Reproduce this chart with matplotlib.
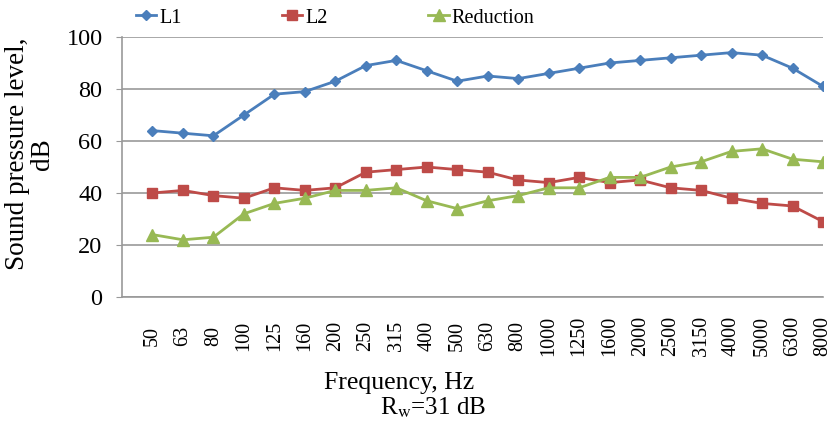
import matplotlib

matplotlib.use("Agg")
import matplotlib.pyplot as plt

FREQS = ["50", "63", "80", "100", "125", "160", "200", "250", "315", "400", "500",
         "630", "800", "1000", "1250", "1600", "2000", "2500", "3150", "4000",
         "5000", "6300", "8000"]
L1 = [64, 63, 62, 70, 78, 79, 83, 89, 91, 87, 83, 85, 84, 86, 88, 90, 91, 92, 93, 94, 93, 88, 81]
L2 = [40, 41, 39, 38, 42, 41, 42, 48, 49, 50, 49, 48, 45, 44, 46, 44, 45, 42, 41, 38, 36, 35, 29]
REDUCTION = [24, 22, 23, 32, 36, 38, 41, 41, 42, 37, 34, 37, 39, 42, 42, 46, 46, 50, 52, 56, 57, 53, 52]
Y_TICKS = [0, 20, 40, 60, 80, 100]

plt.rcParams["font.family"] = ["Liberation Serif", "DejaVu Serif"]
plt.rcParams["mathtext.fontset"] = "stix"

fig = plt.figure(figsize=(8.4, 4.25), dpi=100)
ax = fig.add_axes([122 / 840, 1 - 297 / 425, 701 / 840, 260 / 425])

x = list(range(1, len(FREQS) + 1))
ax.plot(x, L1, color="#4A7EBB", marker="D", markersize=5, lw=2, label="L1")
ax.plot(x, L2, color="#BE4B48", marker="s", markersize=7, lw=2, label="L2")
ax.plot(x, REDUCTION, color="#98B954", marker="^", markersize=8, lw=2, label="Reduction")

ax.set_xlim(0, len(FREQS))
ax.set_ylim(0, 100)
ax.set_yticks(Y_TICKS)
ax.set_xticks(x)
ax.set_xticklabels(FREQS, rotation=90, va="center", ha="center", fontsize=14.5)
ax.tick_params(axis="x", length=0, pad=28)
ax.tick_params(axis="y", labelsize=17.5, length=4, color="#999999", pad=10)
ax.grid(axis="y", color="#999999", lw=1.2)
ax.set_axisbelow(True)
for side in ("top", "right"):
    ax.spines[side].set_visible(False)
for side in ("left", "bottom"):
    ax.spines[side].set_color("#999999")
    ax.spines[side].set_linewidth(1.2)

fig.legend(loc="center left", bbox_to_anchor=(136 / 840, 1 - 18 / 425), ncol=3,
           frameon=False, fontsize=14.5, handlelength=1.0, handletextpad=0.15,
           columnspacing=5.0, borderaxespad=0, borderpad=0)

fig.text(30 / 840, 1 - 154 / 425, "Sound pressure level,\ndB", rotation=90,
         ha="center", va="center", multialignment="center", fontsize=19.5,
         linespacing=1.0)
fig.text(399 / 840, 1 - 383 / 425, "Frequency, Hz", ha="center", va="center", fontsize=18.5)
fig.text(433 / 840, 1 - 408 / 425, r"R$_{\mathrm{w}}$=31 dB", ha="center", va="center", fontsize=18)

fig.savefig("out.png", dpi=100)
